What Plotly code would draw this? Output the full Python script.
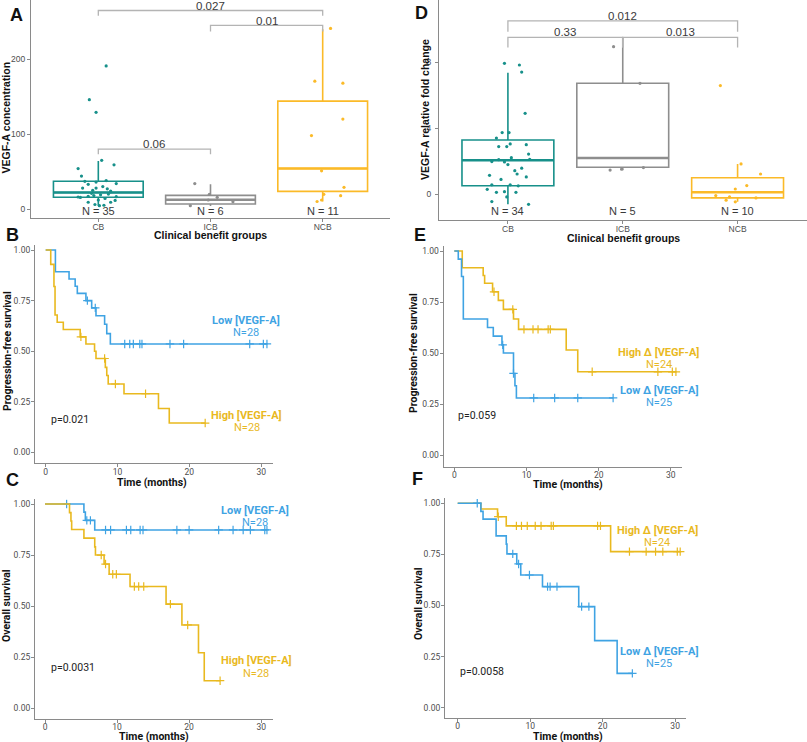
import plotly.graph_objects as go
import numpy as np

W, H = 807, 742

# ------------------------------------------------------------------ data
groups = ["CB", "ICB", "NCB"]

# Panel A : VEGF-A concentration
A_n = [35, 6, 11]
A_q1 = [15.6, 6.7, 23.6]
A_med = [22.0, 12.4, 54.0]
A_q3 = [37.0, 18.2, 144.0]
A_lo = [4.0, 4.0, 10.0]
A_hi = [64.0, 33.0, 240.0]
A_cb = [191, 146, 129, 65, 54, 59, 44, 37, 38, 36, 33, 34, 28, 28, 27, 24, 17, 18,
        19, 16, 15.5, 16.5, 11.5, 9, 9, 6, 4.5, 12, 21, 30, 14, 25, 5, 20, 23]
A_cb_jit = [0.07, -0.08, -0.02, 0.03, -0.18, 0.14, -0.15, -0.12, 0.07, -0.02, -0.09, 0.16,
            -0.14, -0.02, 0.08, 0.11, -0.09, -0.04, 0.02, -0.18, -0.16, 0.16, 0.15, -0.09,
            0.11, -0.03, 0.01, 0.0, -0.06, 0.04, 0.06, -0.05, 0.05, 0.09, 0.11]
A_icb = [33.9, 19.6, 15.6, 9.8, 4.5, 12.0]
A_icb_jit = [-0.14, -0.01, 0.06, 0.2, -0.18, -0.02]
A_ncb = [241, 170.6, 168, 120, 98, 51, 29, 19.6, 17.8, 10, 12]
A_ncb_jit = [0.07, -0.07, 0.18, 0.18, -0.1, -0.01, 0.19, 0.01, 0.16, -0.05, -0.01]
A_brk_x1 = [0, 1, 0]
A_brk_x2 = [2, 2, 1]
A_brk_y = [265, 245, 80]
A_brk_tip = [258, 237, 73]
A_brk_lab = ["0.027", "0.01", "0.06"]

# Panel D : VEGF-A relative fold change
D_n = [34, 5, 10]
D_q1 = [0.52, 1.64, -0.22]
D_med = [2.06, 2.2, 0.12]
D_q3 = [3.29, 6.73, 1.0]
D_lo = [-0.6, 1.45, -0.45]
D_hi = [7.37, 9.51, 1.84]
D_cb = [7.94, 7.84, 7.41, 4.91, 3.74, 3.74, 3.41, 3.05, 3.01, 2.89, 2.89, 2.44, 2.22,
        1.98, 2.10, 1.96, 2.12, 1.58, 1.43, 1.23, 1.15, 1.05, 0.57, 0.57, 0.51, 0.30,
        0.12, 0.16, 0.12, -0.16, -0.44, -0.61, 1.8, 0.9]
D_cb_jit = [-0.03, 0.10, 0.12, 0.15, -0.05, 0.01, -0.10, 0.02, 0.16, -0.08, -0.01, 0.18,
            0.03, -0.14, -0.08, -0.03, 0.19, 0.12, 0.06, 0.08, -0.16, 0.16, -0.14, 0.02,
            0.09, -0.18, -0.10, -0.03, 0.07, -0.01, -0.14, 0.18, 0.0, -0.06]
D_icb = [8.95, 6.73, 1.47, 1.52, 1.62]
D_icb_jit = [-0.08, 0.15, -0.11, -0.01, 0.18]
D_ncb = [6.59, 1.84, 1.23, 0.53, 0.32, -0.08, -0.16, -0.36, -0.46, -0.22]
D_ncb_jit = [-0.15, 0.03, 0.2, 0.08, -0.02, -0.19, -0.07, -0.1, -0.02, 0.16]
D_brk_x1 = [0, 0, 1]
D_brk_x2 = [2, 1, 2]
D_brk_y = [10.52, 9.51, 9.51]
D_brk_tip = [9.85, 8.9, 8.9]
D_brk_lab = ["0.012", "0.33", "0.013"]

# Panel B : PFS by VEGF-A
B_low_t = [1.35, 3.25, 4.1, 4.4, 5.6, 6.4, 7.0, 8.2, 8.5, 9.0]
B_low_s = [0.893, 0.857, 0.821, 0.786, 0.75, 0.714, 0.675, 0.633, 0.587, 0.536]
B_low_end = 30.8
B_low_cens = [5.8, 6.9, 11.0, 11.7, 12.2, 13.1, 13.4, 17.3, 19.2, 28.4, 30.3, 30.8]
B_high_t = [0.7, 1.15, 1.3, 1.6, 2.45, 4.8, 5.6, 6.8, 7.0, 8.3, 8.5, 8.7, 10.9, 15.7, 17.2]
B_high_s = [0.929, 0.82, 0.679, 0.643, 0.607, 0.571, 0.536, 0.5, 0.464, 0.42, 0.38, 0.338,
            0.29, 0.217, 0.145]
B_high_end = 22.2
B_high_cens = [4.9, 8.2, 9.7, 13.9, 22.2]

# Panel C : OS by VEGF-A
C_low_t = [5.4, 5.6, 6.9]
C_low_s = [0.96, 0.92, 0.873]
C_low_end = 30.8
C_low_cens = [3.0, 5.8, 6.3, 8.4, 9.1, 11.3, 11.9, 13.2, 13.6, 18.3, 20.0, 24.1, 26.1,
              27.5, 28.5, 30.5, 30.8]
C_high_t = [3.4, 3.6, 3.7, 5.4, 6.9, 7.0, 8.2, 8.9, 11.8, 16.8, 19.0, 21.3, 22.1]
C_high_s = [0.958, 0.917, 0.875, 0.833, 0.79, 0.75, 0.706, 0.656, 0.596, 0.51, 0.408,
            0.272, 0.135]
C_high_end = 24.3
C_high_cens = [7.8, 8.4, 9.4, 9.9, 12.4, 13.0, 13.7, 17.4, 19.8, 24.3]

# Panel E : PFS by delta VEGF-A
E_high_t = [1.1, 4.0, 4.2, 5.3, 6.1, 6.8, 8.2, 8.9, 15.5, 17.1]
E_high_s = [0.918, 0.88, 0.842, 0.80, 0.758, 0.714, 0.667, 0.616, 0.515, 0.408]
E_high_end = 30.7
E_high_cens = [5.5, 8.1, 9.65, 10.9, 11.6, 13.0, 13.3, 19.1, 28.2, 30.2, 30.7]
E_low_t = [0.55, 1.0, 1.25, 4.6, 5.4, 6.6, 6.8, 8.2, 8.4, 8.6]
E_low_s = [0.96, 0.875, 0.667, 0.625, 0.583, 0.54, 0.5, 0.4, 0.34, 0.28]
E_low_end = 22.0
E_low_cens = [6.7, 8.2, 11.0, 13.9, 17.1, 22.0]

# Panel F : OS by delta VEGF-A
F_high_t = [3.2, 5.5, 6.7, 21.1]
F_high_s = [0.972, 0.934, 0.889, 0.763]
F_high_end = 30.7
F_high_cens = [5.6, 8.1, 8.8, 9.6, 10.7, 11.5, 12.9, 13.2, 19.3, 19.7, 23.7, 26.0,
               27.3, 28.3, 30.3, 30.7]
F_low_t = [3.2, 3.5, 5.3, 6.7, 6.8, 8.15, 8.7, 11.7, 16.7, 18.9, 22.0]
F_low_s = [0.96, 0.922, 0.84, 0.80, 0.752, 0.703, 0.649, 0.592, 0.494, 0.328, 0.168]
F_low_end = 24.1
F_low_cens = [2.7, 7.6, 8.4, 9.9, 12.4, 12.75, 13.7, 17.1, 18.1, 24.1]

surv_ticks = [0, 0.25, 0.5, 0.75, 1.0]
surv_ticktext = ["0.00", "0.25", "0.50", "0.75", "1.00"]
time_ticks = [0, 10, 20, 30]

# ------------------------------------------------------------------ styles
TEAL = "#17908A"
GREY = "#8E8E8E"
ORANGE = "#FBBA28"
BLUE = "#3FA3E3"
YELLOW = "#E9B91F"
BRK = "#B4B4B4"
AXC = "#8A8A8A"
TXT = "#3A3A3A"
ARIAL = "Liberation Sans, Arial, sans-serif"
ROBO = "Roboto, sans-serif"


def xd(a, b):
    return [a / W, b / W]


def yd(top, bottom):
    return [1 - bottom / H, 1 - top / H]


def px(x):
    return x / W


def py(y):
    return 1 - y / H


fig = go.Figure()

# ------------------------------------------------------------------ box panels
def box_panel(xa, ya, q1, med, q3, lo, hi, pts, jits, bx1, bx2, by, btip, blab,
              lab_off, ns, n_y):
    cols = [TEAL, GREY, ORANGE]
    for i in range(3):
        fig.add_trace(go.Box(
            x=[i], q1=[q1[i]], median=[med[i]], q3=[q3[i]],
            lowerfence=[lo[i]], upperfence=[hi[i]], width=0.8,
            boxpoints=False, fillcolor="rgba(255,255,255,0)",
            line=dict(color=cols[i], width=1.6), whiskerwidth=0,
            xaxis=xa, yaxis=ya, showlegend=False, hoverinfo="skip"))
        # thicker median segment, as in the reference
        fig.add_trace(go.Scatter(
            x=[i - 0.4, i + 0.4], y=[med[i], med[i]], mode="lines",
            line=dict(color=cols[i], width=2.4), xaxis=xa, yaxis=ya,
            showlegend=False, hoverinfo="skip"))
        fig.add_trace(go.Scatter(
            x=[i + j for j in jits[i]], y=pts[i], mode="markers",
            marker=dict(color=cols[i], size=3.2), xaxis=xa, yaxis=ya,
            showlegend=False, hoverinfo="skip"))
    for x1, x2, y, t, lab in zip(bx1, bx2, by, btip, blab):
        fig.add_trace(go.Scatter(
            x=[x1, x1, x2, x2], y=[t, y, y, t], mode="lines",
            line=dict(color=BRK, width=1.3), xaxis=xa, yaxis=ya,
            showlegend=False, hoverinfo="skip"))
        fig.add_annotation(x=(x1 + x2) / 2, y=y + lab_off, xref=xa, yref=ya,
                           text=lab, showarrow=False, yanchor="middle",
                           font=dict(family=ARIAL, size=11.5, color=TXT))
    for i in range(3):
        fig.add_annotation(x=i, y=n_y, xref=xa, yref=ya, text=f"N = {ns[i]}",
                           showarrow=False, yanchor="middle",
                           font=dict(family=ARIAL, size=11, color=TXT))


box_panel("x", "y", A_q1, A_med, A_q3, A_lo, A_hi, [A_cb, A_icb, A_ncb],
          [A_cb_jit, A_icb_jit, A_ncb_jit], A_brk_x1, A_brk_x2, A_brk_y, A_brk_tip,
          A_brk_lab, 6.3, A_n, -2.7)
box_panel("x2", "y2", D_q1, D_med, D_q3, D_lo, D_hi, [D_cb, D_icb, D_ncb],
          [D_cb_jit, D_icb_jit, D_ncb_jit], D_brk_x1, D_brk_x2, D_brk_y, D_brk_tip,
          D_brk_lab, 0.31, D_n, -0.99)

# ------------------------------------------------------------------ KM panels
def km(xa, ya, times, surv, end, cens, color):
    xs = [0] + list(times) + [end]
    ys = [1.0] + list(surv) + [surv[-1]]
    fig.add_trace(go.Scatter(x=xs, y=ys, mode="lines", line_shape="hv",
                             line=dict(color=color, width=1.6), xaxis=xa, yaxis=ya,
                             showlegend=False, hoverinfo="skip"))
    t_arr = np.array(times)
    s_arr = np.array(surv)
    cy = []
    for c in cens:
        idx = np.where(t_arr <= c)[0]
        cy.append(float(s_arr[idx[-1]]) if len(idx) else 1.0)
    fig.add_trace(go.Scatter(x=cens, y=cy, mode="markers",
                             marker=dict(symbol="cross-thin", size=6,
                                         line=dict(color=color, width=1.2)),
                             xaxis=xa, yaxis=ya, showlegend=False, hoverinfo="skip"))


km("x3", "y3", B_low_t, B_low_s, B_low_end, B_low_cens, BLUE)
km("x3", "y3", B_high_t, B_high_s, B_high_end, B_high_cens, YELLOW)
km("x4", "y4", E_high_t, E_high_s, E_high_end, E_high_cens, YELLOW)
km("x4", "y4", E_low_t, E_low_s, E_low_end, E_low_cens, BLUE)
km("x5", "y5", C_low_t, C_low_s, C_low_end, C_low_cens, BLUE)
km("x5", "y5", C_high_t, C_high_s, C_high_end, C_high_cens, YELLOW)
km("x6", "y6", F_high_t, F_high_s, F_high_end, F_high_cens, YELLOW)
km("x6", "y6", F_low_t, F_low_s, F_low_end, F_low_cens, BLUE)


def km_label(xa, ya, x, y1, y2, title, n, color):
    fig.add_annotation(x=x, y=y1, xref=xa, yref=ya, text=f"<b>{title}</b>",
                       showarrow=False, font=dict(family=ROBO, size=11, color=color))
    fig.add_annotation(x=x, y=y2, xref=xa, yref=ya, text=n, showarrow=False,
                       font=dict(family=ROBO, size=11, color=color))


def pval(xa, ya, x, y, text):
    fig.add_annotation(x=x, y=y, xref=xa, yref=ya, text=text, showarrow=False,
                       xanchor="left", font=dict(family=ROBO, size=10.5, color="#222"))


km_label("x3", "y3", 27.9, 0.654, 0.595, "Low [VEGF-A]", "N=28", BLUE)
km_label("x3", "y3", 28.0, 0.184, 0.125, "High [VEGF-A]", "N=28", YELLOW)
pval("x3", "y3", 0.4, 0.163, "p=0.021")
km_label("x5", "y5", 29.2, 0.967, 0.908, "Low [VEGF-A]", "N=28", BLUE)
km_label("x5", "y5", 29.3, 0.232, 0.171, "High [VEGF-A]", "N=28", YELLOW)
pval("x5", "y5", 0.6, 0.199, "p=0.0031")
km_label("x4", "y4", 28.3, 0.503, 0.446, "High Δ [VEGF-A]", "N=24", YELLOW)
km_label("x4", "y4", 28.3, 0.314, 0.256, "Low Δ [VEGF-A]", "N=25", BLUE)
pval("x4", "y4", 0.2, 0.196, "p=0.059")
km_label("x6", "y6", 27.5, 0.866, 0.809, "High Δ [VEGF-A]", "N=24", YELLOW)
km_label("x6", "y6", 27.8, 0.273, 0.217, "Low Δ [VEGF-A]", "N=25", BLUE)
pval("x6", "y6", 0.1, 0.176, "p=0.0058")

# ------------------------------------------------------------------ axes
def ax_common(fontfam, standoff):
    return dict(showline=True, linecolor=AXC, linewidth=1.2, ticks="outside",
                ticklen=3, tickwidth=1, tickcolor=AXC, showgrid=False, zeroline=False,
                tickfont=dict(family=fontfam, size=8.5, color="#4D4D4D"),
                ticklabelstandoff=standoff, fixedrange=True)


layout_axes = {}
# A
layout_axes["xaxis"] = dict(domain=xd(31, 390), anchor="y", range=[-0.6, 2.6],
                            tickvals=[0, 1, 2], ticktext=groups, **ax_common(ARIAL, -2))
layout_axes["yaxis"] = dict(domain=yd(0, 218), anchor="x", range=[-12, 279],
                            tickvals=[0, 100, 200], **ax_common(ARIAL, 0))
# D
layout_axes["xaxis2"] = dict(domain=xd(439, 806.5), anchor="y2", range=[-0.6, 2.6],
                             tickvals=[0, 1, 2], ticktext=groups, **ax_common(ARIAL, -2))
layout_axes["yaxis2"] = dict(domain=yd(0, 220), anchor="x2", range=[-1.56, 11.78],
                             tickvals=[0, 4, 8], **ax_common(ARIAL, 2))
# B
layout_axes["xaxis3"] = dict(domain=xd(35, 272.7), anchor="y3", range=[-1.49, 31.6],
                             tickvals=time_ticks, **ax_common(ROBO, -3))
layout_axes["yaxis3"] = dict(domain=yd(245, 463.3), anchor="x3", range=[-0.054, 1.025],
                             tickvals=surv_ticks, ticktext=surv_ticktext,
                             **ax_common(ROBO, -1))
# E
layout_axes["xaxis4"] = dict(domain=xd(443.7, 681.7), anchor="y4", range=[-1.47, 31.5],
                             tickvals=time_ticks, **ax_common(ROBO, -3))
layout_axes["yaxis4"] = dict(domain=yd(245.7, 466.7), anchor="x4", range=[-0.057, 1.026],
                             tickvals=surv_ticks, ticktext=surv_ticktext,
                             **ax_common(ROBO, -1))
# C
layout_axes["xaxis5"] = dict(domain=xd(35, 272.7), anchor="y5", range=[-1.39, 31.6],
                             tickvals=time_ticks, **ax_common(ROBO, -3))
layout_axes["yaxis5"] = dict(domain=yd(499.3, 718.7), anchor="x5", range=[-0.051, 1.023],
                             tickvals=surv_ticks, ticktext=surv_ticktext,
                             **ax_common(ROBO, -1))
# F
layout_axes["xaxis6"] = dict(domain=xd(445, 686), anchor="y6", range=[-1.75, 31.5],
                             tickvals=time_ticks, **ax_common(ROBO, -3))
layout_axes["yaxis6"] = dict(domain=yd(498.3, 717.7), anchor="x6", range=[-0.049, 1.024],
                             tickvals=surv_ticks, ticktext=surv_ticktext,
                             **ax_common(ROBO, -1))

fig.update_layout(**layout_axes)

# ------------------------------------------------------------------ titles & letters
def ptext(x, y, text, size, fam, angle=0, color="#111", bold=True):
    fig.add_annotation(x=px(x), y=py(y), xref="paper", yref="paper",
                       text=f"<b>{text}</b>" if bold else text, showarrow=False,
                       textangle=angle, xanchor="center", yanchor="middle",
                       font=dict(family=fam, size=size, color=color))


ptext(16, 15, "A", 18, ARIAL)
ptext(421, 13, "D", 18, ARIAL)
ptext(12.5, 235, "B", 18, ARIAL)
ptext(419.5, 235, "E", 18, ARIAL)
ptext(12, 480, "C", 18, ARIAL)
ptext(417, 479, "F", 18, ARIAL)

ptext(5.5, 118, "VEGF-A concentration", 10.5, ARIAL, -90)
ptext(210, 235, "Clinical benefit groups", 10.5, ARIAL)
ptext(425, 110, "VEGF-A relative fold change", 10.5, ARIAL, -90)
ptext(623, 238, "Clinical benefit groups", 10.5, ARIAL)

ptext(7, 351, "Progression-free survival", 10.5, ROBO, -90)
ptext(152, 482.5, "Time (months)", 10.5, ROBO)
ptext(413, 353, "Progression-free survival", 10.5, ROBO, -90)
ptext(568, 484.5, "Time (months)", 10.5, ROBO)
ptext(6, 606, "Overall survival", 10.5, ROBO, -90)
ptext(154, 736, "Time (months)", 10.5, ROBO)
ptext(418, 604, "Overall survival", 10.5, ROBO, -90)
ptext(568, 736, "Time (months)", 10.5, ROBO)

fig.update_layout(width=W, height=H, margin=dict(l=0, r=0, t=0, b=0),
                  paper_bgcolor="white", plot_bgcolor="white", boxmode="overlay",
                  showlegend=False)

fig.write_html("out.html", config={"displayModeBar": False},
               post_script="document.body.style.margin='0px';"
                           "document.body.style.overflow='hidden';")
